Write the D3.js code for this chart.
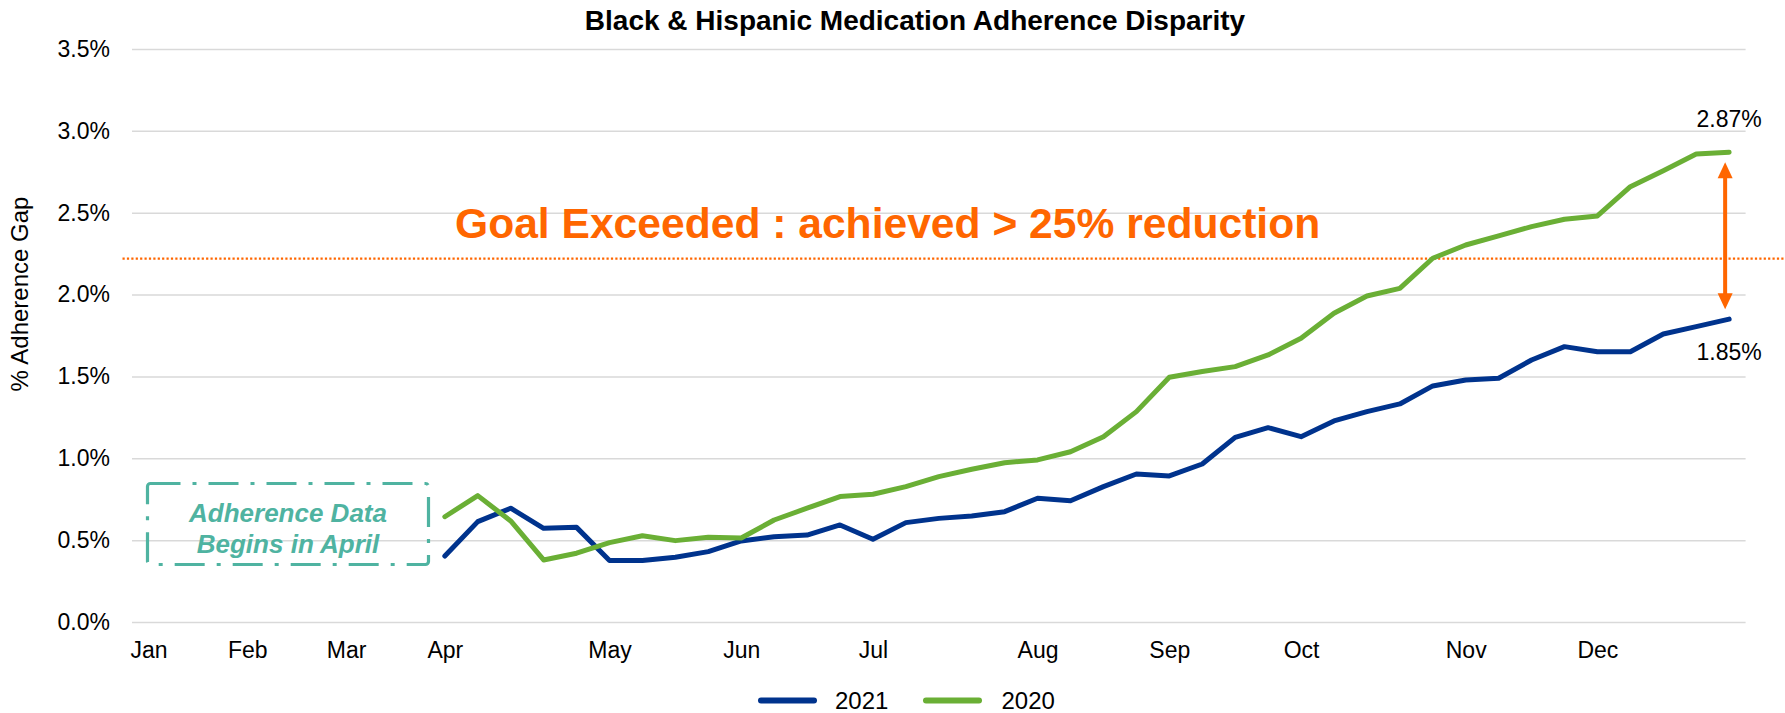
<!DOCTYPE html>
<html>
<head>
<meta charset="utf-8">
<script src="https://cdn.jsdelivr.net/npm/d3@7"></script>
<style>
  html, body { margin: 0; padding: 0; background: #ffffff; }
  svg { display: block; }
  text { font-family: "Liberation Sans", Arial, sans-serif; }
</style>
</head>
<body>
<svg id="chart" width="1785" height="713"></svg>
<script>
// Weekly categories: one slot per week, month names on the first week of each month
const weekLabels = ["Jan","","","Feb","","","Mar","","","Apr","","","","","May","","","","Jun","","","","Jul","","","","","Aug","","","","Sep","","","","Oct","","","","","Nov","","","","Dec","","","",""];

// Adherence gap (%) by week; no data before April
const gap2021 = [null,null,null,null,null,null,null,null,null,
  0.403,0.613,0.695,0.572,0.578,
  0.375,0.375,0.395,0.430,
  0.495,0.521,0.531,0.593,
  0.505,0.607,0.633,0.648,0.674,
  0.756,0.741,0.827,0.904,
  0.892,0.965,1.128,1.187,
  1.132,1.228,1.285,1.332,1.442,
  1.478,1.489,1.600,1.682,
  1.651,1.651,1.759,1.804,1.85];

const gap2020 = [null,null,null,null,null,null,null,null,null,
  0.643,0.772,0.617,0.379,0.420,
  0.485,0.527,0.497,0.517,
  0.513,0.623,0.695,0.766,
  0.780,0.827,0.888,0.933,0.973,
  0.990,1.040,1.132,1.285,
  1.495,1.530,1.560,1.631,
  1.733,1.886,1.991,2.038,2.222,
  2.303,2.358,2.415,2.460,
  2.480,2.659,2.757,2.859,2.87];

const yTicks = [0, 0.5, 1.0, 1.5, 2.0, 2.5, 3.0, 3.5];
const goalValue = 2.22;

const seriesList = [
  { name: "2021", values: gap2021, color: "#00338d" },
  { name: "2020", values: gap2020, color: "#6aaf35" }
];

const ORANGE = "#ff6600";
const TEAL = "#4fb3a1";

const svg = d3.select("#chart");
const plotLeft = 132, plotRight = 1745.6, plotTop = 49, plotBottom = 622;

const x = d3.scalePoint()
  .domain(d3.range(weekLabels.length))
  .range([plotLeft, plotRight])
  .padding(0.5);

const y = d3.scaleLinear().domain([0, 3.5]).range([plotBottom, plotTop]);

// Title
svg.append("text")
  .attr("x", 915).attr("y", 30)
  .attr("text-anchor", "middle")
  .attr("font-size", 28).attr("font-weight", "bold")
  .attr("fill", "#000")
  .text("Black & Hispanic Medication Adherence Disparity");

// Y axis with gridlines
const yAxis = svg.append("g")
  .attr("transform", `translate(${plotLeft},0)`)
  .call(d3.axisLeft(y)
    .tickValues(yTicks)
    .tickFormat(d => d.toFixed(1) + "%")
    .tickSize(-(plotRight - plotLeft))
    .tickPadding(22));
yAxis.select(".domain").remove();
yAxis.selectAll(".tick line").attr("stroke", "#d9d9d9").attr("stroke-width", 1.5);
yAxis.selectAll(".tick text")
  .attr("font-size", 23).attr("fill", "#000")
  .attr("font-family", "Liberation Sans, Arial, sans-serif");

// X axis (month names)
const xAxis = svg.append("g")
  .attr("transform", `translate(0,${plotBottom})`)
  .call(d3.axisBottom(x)
    .tickFormat(i => weekLabels[i])
    .tickSize(0)
    .tickPadding(20));
xAxis.select(".domain").remove();
xAxis.selectAll(".tick text")
  .attr("font-size", 23).attr("fill", "#000")
  .attr("font-family", "Liberation Sans, Arial, sans-serif");

// Y axis title
svg.append("text")
  .attr("transform", "translate(28,294) rotate(-90)")
  .attr("text-anchor", "middle")
  .attr("font-size", 24).attr("fill", "#000")
  .text("% Adherence Gap");

// Goal line (dotted)
svg.append("line")
  .attr("x1", 122.5).attr("x2", 1785)
  .attr("y1", y(goalValue)).attr("y2", y(goalValue))
  .attr("stroke", ORANGE).attr("stroke-width", 2.2)
  .attr("stroke-dasharray", "2.2,2.2");

// Goal text
svg.append("text")
  .attr("x", 455).attr("y", 238)
  .attr("font-size", 42.6).attr("font-weight", "bold")
  .attr("fill", ORANGE)
  .text("Goal Exceeded : achieved > 25% reduction");

// Series lines (2020 drawn last, on top)
const line = d3.line()
  .defined(d => d.v !== null)
  .x(d => x(d.i))
  .y(d => y(d.v));

seriesList.forEach(s => {
  svg.append("path")
    .datum(s.values.map((v, i) => ({ i, v })))
    .attr("fill", "none")
    .attr("stroke", s.color)
    .attr("stroke-width", 5)
    .attr("stroke-linejoin", "round")
    .attr("stroke-linecap", "round")
    .attr("d", line);
});

// End-value labels
const lastIdx = weekLabels.length - 1;
const end2020 = gap2020[lastIdx], end2021 = gap2021[lastIdx];
svg.append("text")
  .attr("x", x(lastIdx)).attr("y", y(end2020) - 25)
  .attr("text-anchor", "middle").attr("font-size", 23).attr("fill", "#000")
  .text(end2020.toFixed(2) + "%");
svg.append("text")
  .attr("x", x(lastIdx)).attr("y", y(end2021) + 41)
  .attr("text-anchor", "middle").attr("font-size", 23).attr("fill", "#000")
  .text(end2021.toFixed(2) + "%");

// Double-headed arrow between the two end values
const ax = x(lastIdx) - 4;
const aTop = y(end2020) + 10, aBot = y(end2021) - 10;
const headL = 16, headW = 7.5;
const arrow = svg.append("g").attr("fill", ORANGE).attr("stroke", ORANGE);
arrow.append("line")
  .attr("x1", ax).attr("x2", ax)
  .attr("y1", aTop + headL - 2).attr("y2", aBot - headL + 2)
  .attr("stroke-width", 4);
arrow.append("path")
  .attr("stroke", "none")
  .attr("d", `M${ax},${aTop} L${ax - headW},${aTop + headL} L${ax + headW},${aTop + headL} Z`);
arrow.append("path")
  .attr("stroke", "none")
  .attr("d", `M${ax},${aBot} L${ax - headW},${aBot - headL} L${ax + headW},${aBot - headL} Z`);

// "Adherence Data Begins in April" callout
svg.append("rect")
  .attr("x", 147.5).attr("y", 483.5)
  .attr("width", 281).attr("height", 81)
  .attr("rx", 3)
  .attr("fill", "none")
  .attr("stroke", TEAL).attr("stroke-width", 3.2)
  .attr("stroke-dasharray", "30,12,4,12");
const callout = svg.append("text")
  .attr("text-anchor", "middle")
  .attr("font-size", 26).attr("font-weight", "bold").attr("font-style", "italic")
  .attr("fill", TEAL);
callout.append("tspan").attr("x", 288).attr("y", 522).text("Adherence Data");
callout.append("tspan").attr("x", 288).attr("y", 553).text("Begins in April");

// Legend
const legendItems = [
  { s: seriesList[0], lx: 761, tx: 835 },
  { s: seriesList[1], lx: 926, tx: 1001.5 }
];
legendItems.forEach(item => {
  svg.append("line")
    .attr("x1", item.lx).attr("x2", item.lx + 53)
    .attr("y1", 700.5).attr("y2", 700.5)
    .attr("stroke", item.s.color).attr("stroke-width", 6)
    .attr("stroke-linecap", "round");
  svg.append("text")
    .attr("x", item.tx).attr("y", 708.5)
    .attr("font-size", 24).attr("fill", "#000")
    .text(item.s.name);
});
</script>
</body>
</html>
